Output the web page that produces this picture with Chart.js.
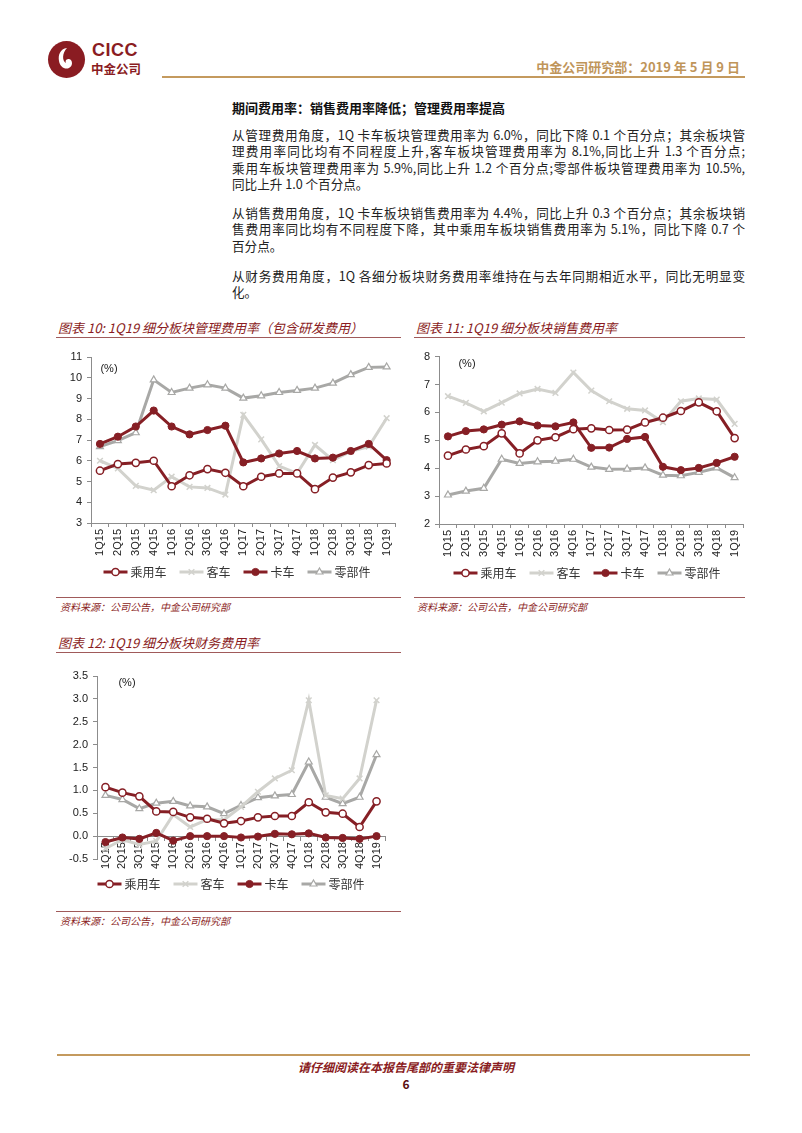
<!DOCTYPE html>
<html>
<head>
<meta charset="utf-8">
<script src="https://cdn.jsdelivr.net/npm/chart.js@4.4.1/dist/chart.umd.min.js"></script>
<style>
  html, body { margin: 0; padding: 0; background: #fff; }
  body { width: 802px; height: 1133px; position: relative; overflow: hidden;
         font-family: "Noto Sans CJK SC", "Noto Sans", sans-serif; color: #222; }
  .abs { position: absolute; }
  .goldline { position: absolute; height: 2px; background: #c49a5e; }
  .redline { position: absolute; height: 1px; background: #a05a5a; }
  .para { position: absolute; left: 232px; width: 513px; font-size: 12.6px; line-height: 16.4px; color: #222; }
  .para div { text-align: justify; text-align-last: justify; white-space: nowrap; }
  .para div.last { text-align-last: left; }
  .ctitle { position: absolute; font-size: 13px; font-style: italic; color: #8a1c22; white-space: nowrap; }
  .src { position: absolute; font-size: 10px; font-style: italic; color: #8a1c22; white-space: nowrap; }
  canvas { position: absolute; }
</style>
</head>
<body>
<!-- header -->
<svg class="abs" style="left:46px;top:40px" width="42" height="40" viewBox="0 0 42 40">
  <circle cx="20.5" cy="19.5" r="18.5" fill="#8a1c22"/>
  <path d="M20.5 1 A18.5 18.5 0 0 1 20.5 38 A12 12 0 0 0 20.5 1 Z" fill="#c9a063"/>
  <path d="M21 8 C14 9 12 15 13 21 C14 27 19 30 23 28 C27 26 27 20 23 19 C20 18.5 19 21 20 23 C16 21 16 13 21 8 Z" fill="#fff"/>
</svg>
<div class="abs" style="left:92px;top:40px;font-family:'Liberation Sans',sans-serif;font-weight:bold;font-size:18px;color:#8a1c22;letter-spacing:0.5px;">CICC</div>
<div class="abs" style="left:91px;top:59px;font-weight:bold;font-size:12.5px;color:#8a1c22;">中金公司</div>
<div class="abs" style="right:62px;top:57px;font-size:13px;font-weight:bold;color:#bf955a;white-space:nowrap;">中金公司研究部：2019 年 5 月 9 日</div>
<div class="goldline" style="left:162px;top:76px;width:583px;"></div>

<div class="abs" style="left:232px;top:98px;font-size:13px;font-weight:bold;color:#111;">期间费用率：销售费用率降低；管理费用率提高</div>

<div class="para" style="top:127px;">
  <div>从管理费用角度，1Q 卡车板块管理费用率为 6.0%，同比下降 0.1 个百分点；其余板块管</div>
  <div>理费用率同比均有不同程度上升,客车板块管理费用率为 8.1%,同比上升 1.3 个百分点;</div>
  <div>乘用车板块管理费用率为 5.9%,同比上升 1.2 个百分点;零部件板块管理费用率为 10.5%,</div>
  <div class="last">同比上升 1.0 个百分点。</div>
</div>
<div class="para" style="top:205px;">
  <div>从销售费用角度，1Q 卡车板块销售费用率为 4.4%，同比上升 0.3 个百分点；其余板块销</div>
  <div>售费用率同比均有不同程度下降，其中乘用车板块销售费用率为 5.1%，同比下降 0.7 个</div>
  <div class="last">百分点。</div>
</div>
<div class="para" style="top:268px;">
  <div>从财务费用角度，1Q 各细分板块财务费用率维持在与去年同期相近水平，同比无明显变</div>
  <div class="last">化。</div>
</div>

<!-- chart titles -->
<div class="ctitle" style="left:58px;top:318px;">图表 10: 1Q19 细分板块管理费用率（包含研发费用）</div>
<div class="redline" style="left:56px;top:337px;width:345px;"></div>
<div class="ctitle" style="left:416px;top:318px;">图表 11: 1Q19 细分板块销售费用率</div>
<div class="redline" style="left:414px;top:337px;width:331px;"></div>
<div class="ctitle" style="left:58px;top:633px;">图表 12: 1Q19 细分板块财务费用率</div>
<div class="redline" style="left:56px;top:652px;width:345px;"></div>

<canvas id="c10" width="362" height="245" style="left:40px;top:345px;"></canvas>
<canvas id="c11" width="345" height="245" style="left:405px;top:345px;"></canvas>
<canvas id="c12" width="360" height="240" style="left:40px;top:663px;"></canvas>

<div class="redline" style="left:56px;top:597px;width:345px;"></div>
<div class="src" style="left:60px;top:599px;">资料来源：公司公告，中金公司研究部</div>
<div class="redline" style="left:414px;top:597px;width:331px;"></div>
<div class="src" style="left:417px;top:599px;">资料来源：公司公告，中金公司研究部</div>
<div class="redline" style="left:56px;top:911px;width:345px;"></div>
<div class="src" style="left:60px;top:913px;">资料来源：公司公告，中金公司研究部</div>

<!-- footer -->
<div class="goldline" style="left:57px;top:1054px;width:693px;"></div>
<div class="abs" style="left:0;width:812px;top:1058px;text-align:center;font-size:12px;font-style:italic;font-weight:bold;color:#8a1c22;">请仔细阅读在本报告尾部的重要法律声明</div>
<div class="abs" style="left:0;width:812px;top:1075px;text-align:center;font-size:12px;font-weight:bold;color:#5a0f12;">6</div>

<script>
const quarters = ['1Q15','2Q15','3Q15','4Q15','1Q16','2Q16','3Q16','4Q16','1Q17','2Q17','3Q17','4Q17','1Q18','2Q18','3Q18','4Q18','1Q19'];
const seriesNames = ['乘用车', '客车', '卡车', '零部件'];

// 图表10 管理费用率
const admPassenger = [5.52, 5.84, 5.90, 6.00, 4.77, 5.30, 5.60, 5.42, 4.77, 5.23, 5.39, 5.39, 4.63, 5.19, 5.44, 5.79, 5.87];
const admBus       = [6.00, 5.63, 4.79, 4.58, 5.23, 4.74, 4.69, 4.37, 8.21, 7.03, 5.74, 5.39, 6.76, 6.03, 6.45, 6.68, 8.05];
const admTruck     = [6.81, 7.16, 7.65, 8.42, 7.65, 7.27, 7.48, 7.69, 5.92, 6.11, 6.35, 6.47, 6.11, 6.15, 6.47, 6.81, 6.03];
const admParts     = [6.68, 6.97, 7.35, 9.90, 9.29, 9.50, 9.66, 9.50, 9.02, 9.13, 9.29, 9.39, 9.50, 9.74, 10.15, 10.50, 10.52];

// 图表11 销售费用率
const selPassenger = [4.45, 4.67, 4.79, 5.25, 4.53, 5.00, 5.11, 5.40, 5.43, 5.37, 5.38, 5.64, 5.81, 6.05, 6.36, 6.04, 5.08];
const selBus       = [6.58, 6.34, 6.04, 6.35, 6.68, 6.84, 6.70, 7.43, 6.78, 6.40, 6.13, 6.07, 5.65, 6.40, 6.50, 6.46, 5.59];
const selTruck     = [5.14, 5.33, 5.39, 5.56, 5.68, 5.53, 5.50, 5.64, 4.73, 4.74, 5.05, 5.12, 4.05, 3.93, 4.01, 4.19, 4.41];
const selParts     = [3.04, 3.18, 3.28, 4.32, 4.17, 4.23, 4.25, 4.32, 4.04, 3.96, 3.97, 4.01, 3.75, 3.73, 3.85, 4.01, 3.66];

// 图表12 财务费用率
const finPassenger = [1.07, 0.95, 0.87, 0.54, 0.53, 0.41, 0.38, 0.28, 0.33, 0.41, 0.44, 0.44, 0.74, 0.52, 0.49, 0.20, 0.76];
const finBus       = [-0.27, -0.08, -0.18, -0.11, 0.47, 0.20, 0.36, 0.36, 0.64, 0.97, 1.26, 1.44, 2.97, 0.89, 0.82, 1.26, 2.97];
const finTruck     = [-0.13, -0.03, -0.06, 0.07, -0.10, 0.00, 0.00, 0.00, -0.03, -0.01, 0.05, 0.04, 0.06, -0.03, -0.04, -0.06, 0.00];
const finParts     = [0.89, 0.80, 0.60, 0.72, 0.76, 0.66, 0.64, 0.49, 0.67, 0.84, 0.88, 0.91, 1.62, 0.85, 0.71, 0.85, 1.78];

const RED = '#861f25';
const LIGHT = '#d2d2cd';
const GRAY = '#a8a8a6';
const AXIS = '#8c8c8c';
const TICKFONT = "'Liberation Sans Narrow', 'Liberation Sans', sans-serif";

const styles = [
  { color: RED,   point: 'circle',   fill: '#fff', radius: 3.6, bw: 1.5, order: 0 },
  { color: LIGHT, point: 'crossRot', fill: LIGHT,  radius: 4,   bw: 1.5, order: 2 },
  { color: RED,   point: 'circle',   fill: RED,    radius: 3.6, bw: 1,   order: 1 },
  { color: GRAY,  point: 'triangle', fill: '#fff', radius: 4,   bw: 1.2, order: 3 },
];

function makeDatasets(arrs) {
  return arrs.map((d, i) => ({
    label: seriesNames[i],
    data: d,
    borderColor: styles[i].color,
    borderWidth: 3,
    tension: 0,
    pointStyle: styles[i].point,
    pointRadius: styles[i].radius,
    pointBackgroundColor: styles[i].fill,
    pointBorderColor: styles[i].color,
    pointBorderWidth: styles[i].bw,
    order: styles[i].order,
  }));
}

// Excel-like legend: short line with a marker in the middle
const lineLegend = {
  id: 'lineLegend',
  afterDraw(chart, args, opts) {
    const ctx = chart.ctx;
    ctx.save();
    ctx.font = '12px "Noto Sans CJK SC"';
    const lineW = 24, gap = 13;
    const items = chart.data.datasets.map(ds => ({ ds, w: lineW + 3 + ctx.measureText(ds.label).width }));
    const total = items.reduce((s, it) => s + it.w, 0) + gap * (items.length - 1);
    let x = opts.cx - total / 2;
    const y = opts.y;
    items.forEach(it => {
      const ds = it.ds;
      ctx.strokeStyle = ds.borderColor;
      ctx.lineWidth = 3;
      ctx.beginPath();
      ctx.moveTo(x, y);
      ctx.lineTo(x + lineW, y);
      ctx.stroke();
      ctx.fillStyle = ds.pointBackgroundColor;
      ctx.strokeStyle = ds.pointBorderColor;
      ctx.lineWidth = ds.pointBorderWidth;
      Chart.helpers.drawPoint(ctx, { pointStyle: ds.pointStyle, radius: ds.pointRadius, borderWidth: ds.pointBorderWidth, rotation: 0 }, x + lineW / 2, y);
      ctx.fillStyle = '#333';
      ctx.textBaseline = 'middle';
      ctx.textAlign = 'left';
      ctx.fillText(ds.label, x + lineW + 3, y + 0.5);
      x += it.w + gap;
    });
    ctx.restore();
  }
};

const unitLabel = {
  id: 'unitLabel',
  afterDraw(chart, args, opts) {
    const ctx = chart.ctx;
    ctx.save();
    ctx.font = "11px 'Liberation Sans', sans-serif";
    ctx.fillStyle = '#222';
    ctx.textAlign = 'center';
    ctx.textBaseline = 'middle';
    ctx.fillText('(%)', chart.chartArea.left + opts.dx, chart.chartArea.top + opts.dy);
    ctx.restore();
  }
};

function makeChart(id, arrs, cfg) {
  const xScale = {
    type: 'category',
    offset: true,
    grid: { display: true, offset: true, drawOnChartArea: false, drawTicks: true, tickLength: 4, color: AXIS },
    border: { color: AXIS, width: 1 },
    ticks: { minRotation: 90, maxRotation: 90, autoSkip: false, color: '#222', padding: 2,
             font: { family: TICKFONT, size: 11 } },
    afterFit: s => { s.height = 35; },
  };
  if (cfg.xAtZero) xScale.position = { y: 0 };
  return new Chart(document.getElementById(id), {
    type: 'line',
    data: { labels: quarters, datasets: makeDatasets(arrs) },
    plugins: [lineLegend, unitLabel],
    options: {
      responsive: false,
      animation: false,
      layout: { padding: cfg.padding },
      plugins: {
        legend: { display: false },
        tooltip: { enabled: false },
        lineLegend: cfg.legend,
        unitLabel: cfg.unit,
      },
      scales: {
        x: xScale,
        y: {
          min: cfg.min, max: cfg.max,
          grid: { display: true, drawOnChartArea: false, drawTicks: true, tickLength: 4, color: AXIS },
          border: { color: AXIS, width: 1 },
          ticks: { stepSize: cfg.step, color: '#222', padding: 5,
                   font: { family: "'Liberation Sans', sans-serif", size: 11 },
                   callback: v => cfg.decimals ? Number(v).toFixed(1) : v },
          afterFit: s => { s.width = cfg.yWidth; },
        }
      }
    }
  });
}

makeChart('c10', [admPassenger, admBus, admTruck, admParts], {
  min: 3, max: 11, step: 1, yWidth: 51,
  padding: { top: 12, right: 3, bottom: 32, left: 0 },
  legend: { cx: 197, y: 227 },
  unit: { dx: 18, dy: 12 },
});
makeChart('c11', [selPassenger, selBus, selTruck, selParts], {
  min: 2, max: 8, step: 1, yWidth: 34,
  padding: { top: 11, right: 6, bottom: 31, left: 0 },
  legend: { cx: 182, y: 228 },
  unit: { dx: 28, dy: 7 },
});
makeChart('c12', [finPassenger, finBus, finTruck, finParts], {
  min: -0.5, max: 3.5, step: 0.5, yWidth: 57, decimals: true, xAtZero: true,
  padding: { top: 13, right: 15, bottom: 44, left: 0 },
  legend: { cx: 191, y: 221 },
  unit: { dx: 30, dy: 7 },
});
</script>
</body>
</html>
